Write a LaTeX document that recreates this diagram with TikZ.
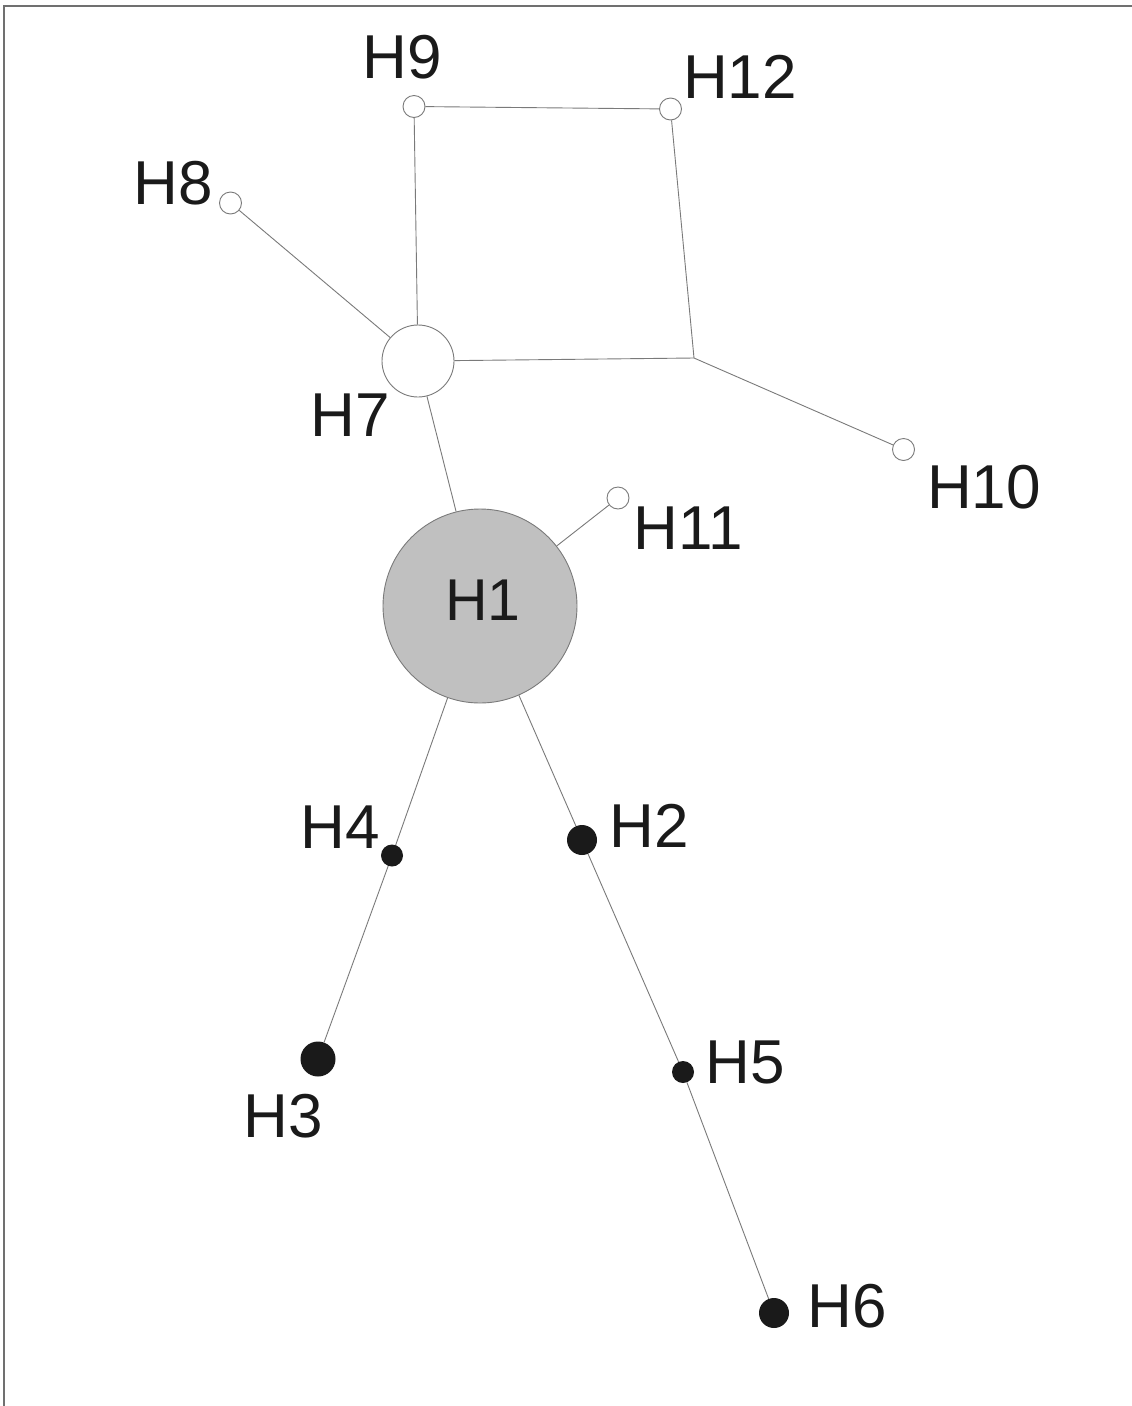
\documentclass[tikz,border=0pt]{standalone}
\usepackage{fontspec}
\setmainfont{Liberation Sans}
\definecolor{linegray}{HTML}{7A7A7A}
\definecolor{framegray}{HTML}{707070}
\definecolor{hubgray}{HTML}{C0C0C0}
\definecolor{dotblack}{HTML}{1A1A1A}
\begin{document}
\begin{tikzpicture}[x=1pt,y=-1pt,
  hap/.style={circle,inner sep=0pt,draw=linegray,line width=0.9pt},
  openhap/.style={hap,fill=white},
  solidhap/.style={circle,inner sep=0pt,draw=none,fill=dotblack},
  lab/.style={inner sep=0pt,font=\fontsize{62}{62}\selectfont,text=dotblack},
  link/.style={draw=linegray,line width=0.9pt}]
\useasboundingbox (0,0) rectangle (1132,1406);
\fill[white] (0,0) rectangle (1132,1406);
\draw[framegray,line width=1.6pt] (4,1406) -- (4,6) -- (1132,6);
% haplotypes
\node[hap,fill=hubgray,minimum size=194pt] (H1) at (480,606) {};
\node[lab,font=\fontsize{59}{59}\selectfont] (H1l) at (483,600) {H1};
\node[openhap,minimum size=72pt] (H7) at (418,361) {};
\node[openhap,minimum size=22pt] (H8) at (230.5,203) {};
\node[openhap,minimum size=22pt] (H9) at (414,106.5) {};
\node[openhap,minimum size=22pt] (H12) at (670.5,109) {};
\node[openhap,minimum size=22pt] (H10) at (903.5,449.5) {};
\node[openhap,minimum size=22pt] (H11) at (618,498) {};
\coordinate (J) at (694,358);
\node[solidhap,minimum size=22pt] (H4) at (392,855.5) {};
\node[solidhap,minimum size=30pt] (H2) at (582,840) {};
\node[solidhap,minimum size=35pt] (H3) at (318,1059) {};
\node[solidhap,minimum size=22pt] (H5) at (683,1072) {};
\node[solidhap,minimum size=30pt] (H6) at (774,1313) {};
% connectors
\draw[link] (H9) -- (H12);
\draw[link] (H9) -- (H7);
\draw[link] (H12) -- (J);
\draw[link] (J) -- (H7);
\draw[link] (J) -- (H10);
\draw[link] (H8) -- (H7);
\draw[link] (H7) -- (H1);
\draw[link] (H1) -- (H11);
\draw[link] (H1) -- (H4);
\draw[link] (H4) -- (H3);
\draw[link] (H1) -- (H2);
\draw[link] (H2) -- (H5);
\draw[link] (H5) -- (H6);
% labels
\node[lab] (L9) at (402,57) {H9};
\node[lab] (L12) at (740,77) {H12};
\node[lab] (L8) at (173,183) {H8};
\node[lab] (L7) at (350,415) {H7};
\node[lab] (L10) at (984,487) {H10};
\node[lab] (L11) at (688,528) {H11};
\node[lab] (L4) at (340,827) {H4};
\node[lab] (L2) at (649,826) {H2};
\node[lab] (L3) at (283,1116) {H3};
\node[lab] (L5) at (745,1062) {H5};
\node[lab] (L6) at (847,1306) {H6};
\end{tikzpicture}
\end{document}
